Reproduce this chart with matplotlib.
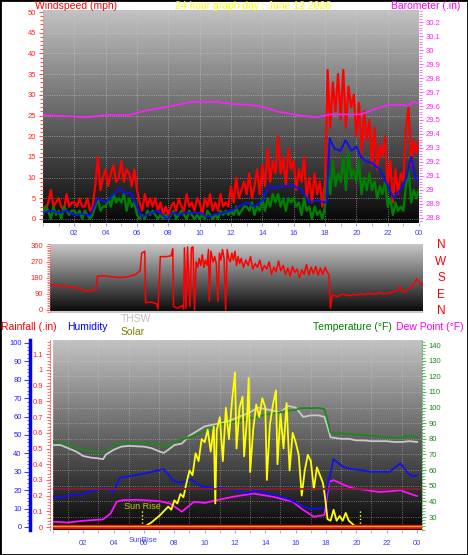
import numpy as np
import matplotlib
matplotlib.use("Agg")
import matplotlib.pyplot as plt
from matplotlib.ticker import MultipleLocator, FixedLocator, FuncFormatter
from matplotlib.patches import Rectangle

# ---- data ----
# wind, 10 minute steps from 00:00 to 24:00
wind_hours = [i / 6 for i in range(145)]
wind_gust = [3, 2, 4, 7, 3, 4,  5, 3, 2, 6, 3, 4,  4, 3, 5, 3, 3, 5,
             2, 3, 8, 15, 7, 10,  12, 8, 11, 13, 9, 10,  14, 9, 12, 11, 8, 12,
             7, 4, 2, 6, 3, 5,  3, 5, 2, 4, 1, 3,  1, 3, 4, 2, 5, 3,
             2, 6, 3, 4, 2, 5,  4, 1, 5, 3, 6, 2,  4, 2, 6, 3, 4, 3,
             8, 4, 10, 5, 7, 9,  6, 11, 5, 8, 12, 6,  13, 8, 17, 9, 14, 11,
             20, 11, 15, 8, 17, 12,  14, 7, 12, 9, 15, 5,  10, 4, 11, 6, 9, 3,
             9, 36, 22, 33, 26, 35,  24, 36, 22, 32, 27, 30,  20, 28, 16, 26, 19, 24,
             13, 22, 12, 18, 15, 20,  8, 14, 4, 12, 6, 11,  9, 22, 27, 13, 19, 16,
             19]
wind_low = [1, 3, 2, 0, 3, 1,  2, 0, 3, 2, 1, 2,  2, 1, 2, 0, 2, 1,
            0, 1, 3, 5, 2, 3,  3, 5, 3, 6, 4, 5,  4, 6, 2, 5, 3, 4,
            1, 0, 1, 0, 2, 1,  2, 1, 0, 1, 0, 1,  0, 1, 2, 0, 1, 2,
            1, 0, 2, 1, 0, 1,  0, 1, 0, 2, 1, 0,  1, 0, 2, 1, 2, 1,
            2, 1, 3, 1, 2, 3,  3, 2, 4, 1, 3, 2,  5, 2, 5, 3, 6, 4,
            6, 3, 5, 2, 5, 4,  5, 3, 4, 1, 5, 2,  3, 0, 3, 1, 2, 0,
            3, 12, 6, 14, 8, 11,  9, 15, 7, 16, 10, 12,  9, 14, 6, 10, 7, 11,
            7, 9, 5, 8, 6, 9,  3, 5, 1, 4, 2, 3,  2, 8, 12, 4, 7, 5,
            7]
avg_hours = [0, 0.5, 1, 1.5, 2, 2.5, 3, 3.25, 3.5, 4, 4.5, 4.9, 5.3, 5.6, 6, 6.3,
             6.6, 7, 7.3, 7.6, 7.9, 8.3, 8.7, 9, 9.5, 10, 10.5, 11, 11.5, 12, 12.5,
             13, 13.5, 14, 14.4, 14.8, 15.2, 15.6, 16, 16.5, 17, 17.5, 18, 18.1,
             18.3, 18.6, 19, 19.3, 19.7, 20, 20.3, 20.6, 21, 21.5, 22, 22.4, 22.8,
             23.2, 23.5, 23.8, 24]
wind_avg = [1.5, 2, 1.5, 2, 1, 1.2, 0.8, 3, 5, 4, 6, 7.3, 6, 6.5, 3, 0.5,
            1, 1.5, 2, 1, 0, 1.5, 1, 1.5, 1.5, 1.5, 0.5, 1.2, 1.5, 2, 3,
            4, 3, 4.5, 8, 7.5, 7.8, 8, 8, 7, 4, 4.5, 4, 4,
            19.5, 17, 16.5, 19, 16.5, 17.5, 15, 14, 13.5, 12, 8, 5, 7,
            10, 15, 9.5, 9.5]
baro_hours = [0, 2.8, 4, 5.5, 6.5, 8, 9.5, 11, 12.2, 13, 14, 15, 16.5, 17.5,
              18.3, 19.5, 20.3, 21, 22, 23, 23.3, 23.6, 24]
barometer = [29.536, 29.52, 29.536, 29.536, 29.566, 29.595, 29.63, 29.63, 29.614,
             29.61, 29.595, 29.56, 29.53, 29.52, 29.54, 29.54, 29.54, 29.57,
             29.607, 29.607, 29.6, 29.63, 29.62]

# wind direction (degrees)
dir_hours = [0, 0.5, 1, 1.5, 2, 2.4, 2.8, 2.95, 3.05, 3.5, 4, 4.5, 5, 5.5, 5.8, 5.9,
             6.1, 6.15, 6.5, 6.85, 6.95, 7.1, 7.5, 7.8, 7.9, 7.95, 8.2, 8.5, 8.6,
             8.65, 8.75, 8.85, 9.0, 9.1, 9.2, 9.3,
             9.4, 9.5, 9.6, 9.7, 9.8, 9.9, 10.0, 10.1, 10.2, 10.25, 10.35, 10.5, 10.6,
             10.7, 10.8, 10.9, 11.0, 11.1, 11.2, 11.3, 11.4, 11.5,
             11.6, 11.7, 11.8, 11.9, 12.0, 12.1, 12.2, 12.3, 12.45, 12.6, 12.75, 12.9,
             13.05, 13.2, 13.35, 13.5, 13.65, 13.8, 13.95, 14.1, 14.25, 14.4, 14.55,
             14.7, 14.85, 15.0, 15.15, 15.3, 15.45, 15.6, 15.75, 15.9, 16.05, 16.2,
             16.35, 16.5, 16.65, 16.8, 16.95, 17.1, 17.25, 17.4, 17.55, 17.7, 17.85,
             17.95, 18.05, 18.15, 18.5, 18.8, 19, 19.3, 19.5, 19.8, 20, 20.3,
             20.5, 20.8, 21, 21.3, 21.5, 21.8, 22, 22.3, 22.5, 22.7, 23, 23.3, 23.6,
             23.8, 24]
wind_dir = [141, 138, 135, 128, 118, 105, 112, 115, 190, 192, 186, 182, 186, 200, 220, 320,
            330, 40, 45, 35, 5, 300, 300, 305, 345, 20, 10, 25, 5,
            350, 10, 355, 20, 350, 355, 0,
            270, 240, 290, 250, 310, 240, 280, 250, 340, 50, 330, 270, 300,
            260, 50, 320, 280, 340, 290, 0, 340, 290,
            270, 320, 280, 330, 250, 300, 260, 290, 240, 280, 250, 300,
            230, 260, 240, 280, 220, 250, 230, 270, 200, 240, 215,
            275, 220, 250, 200, 235, 190, 245, 210, 230, 180, 225,
            200, 255, 195, 240, 205, 245, 195, 235, 200, 240, 210,
            200, 10, 85, 75, 90, 85, 80, 88, 84, 92, 86,
            94, 88, 92, 97, 90, 96, 100, 108, 130, 100, 110, 130, 175,
            150, 140]

# temperature / THSW / dew point (F), humidity (%), solar (W/m2)
temp_hours = [0, 0.5, 1, 1.5, 2, 2.5, 3, 3.5, 3.8, 4.2, 5, 6, 7, 7.5, 8, 8.5, 9, 9.5,
              10, 10.5, 11, 11.5, 12, 12.5, 13, 13.5, 14, 14.5, 15, 15.5, 16, 16.3,
              17, 17.5, 17.9, 18.1, 18.3, 18.6, 19, 19.5, 20, 20.5, 21, 21.5, 22,
              22.5, 23, 23.2, 23.6, 24]
temperature = [78, 77.5, 76, 74.5, 73, 72, 71.5, 72, 74, 77, 77.5, 77.5, 76.5, 75, 78,
               79.5, 81, 83, 85, 87, 89, 90, 91, 92, 93, 94, 95.5, 96, 97, 98, 98.5,
               99.6, 99.6, 99.8, 99, 92, 84, 83.5, 83.5, 83, 82.7, 82.3, 82, 81.5, 81,
               80.6, 80.3, 82, 82, 80.8]
thsw_hours = [0, 0.5, 1, 1.5, 2, 2.5, 3, 3.3, 3.5, 4, 4.5, 5, 6, 6.5, 7, 7.3, 7.6, 8,
              8.5, 9, 9.5, 10, 10.5, 11, 11.5, 12, 12.5, 13, 13.5, 14, 14.5, 15,
              15.5, 16, 16.5, 17, 17.5, 17.9, 18.1, 18.3, 19, 19.5, 20, 20.5, 21, 22,
              22.5, 23, 23.5, 24]
thsw = [76, 76, 74, 72, 69, 68, 67.5, 67, 70, 73, 75, 75.5, 75, 74, 72, 71, 73, 76,
        77, 82, 85, 88, 89, 90, 91, 93, 95, 97, 100, 99, 98, 97, 101,
        100, 94, 95, 95, 94, 88, 81, 80, 80, 79, 79, 78.5, 78.5,
        78, 78, 78.5, 78]
dew_hours = [0, 1, 2, 3.3, 3.8, 4.2, 4.6, 5.5, 6.5, 7.1, 7.7, 8.5, 9.3, 10, 10.8, 11.9,
             13.2, 14.5, 15.8, 16.5, 17.2, 17.9, 18.2, 18.5, 19.2, 19.8, 20.5, 21.5,
             22.3, 22.9, 23.5, 24]
dew_point = [27, 26.5, 27.6, 28.5, 32.3, 39.8, 40.8, 41, 40.5, 40, 38.7, 33.4, 39.8, 39,
             40.8, 43, 45, 43, 39.8, 34.5, 30.2, 31.3, 52.5, 53.6, 50.5, 48.3, 47.5, 46,
             46.5, 47.2, 45, 43.4]
hum_hours = [0, 0.5, 1, 1.5, 2, 2.5, 3, 3.5, 4, 4.4, 5.3, 6, 6.5, 7.3, 7.9, 8.3, 8.7,
             9.1, 9.7, 10.5, 11.2, 11.9, 12.8, 13.4, 14.2, 15, 15.6, 16.3, 16.9, 17.5,
             17.9, 18.1, 18.5, 19.1, 19.6, 20.2, 21, 22.2, 22.9, 23.4, 23.7, 24]
humidity = [16.5, 16, 17, 17.5, 18, 19.5, 20.5, 21, 19, 26.6, 28, 29, 30, 31.5, 25.5,
            24, 24.5, 26, 22.3, 21.5, 21, 20, 18.5, 19.7, 18, 16.5, 15, 12, 10, 10,
            10.3, 22, 36.8, 32.8, 31.5, 31, 30, 30, 34.6, 29.3, 27.5, 28]
solar_hours = [0, 6.0, 6.5, 7.0, 7.3, 7.6, 7.8, 8.0, 8.2, 8.4, 8.6, 8.8, 9.0, 9.2, 9.4,
               9.6, 9.8, 10.0, 10.2, 10.4, 10.6, 10.7, 10.8, 11.0, 11.2, 11.4, 11.6,
               11.8, 12.0, 12.1, 12.3, 12.5, 12.6, 12.8, 12.9, 13.0, 13.2, 13.4, 13.6,
               13.8, 14.0, 14.1, 14.3, 14.5, 14.7, 14.8, 15.0, 15.2, 15.4, 15.6, 15.8,
               16.0, 16.2, 16.4, 16.6, 16.8, 17.0, 17.2, 17.4, 17.6, 17.8, 17.95, 18.1,
               18.3, 18.5, 18.7, 18.9, 19.1, 19.3, 19.5, 19.8, 20.0, 24]
solar = [0, 0, 30, 70, 100, 130, 110, 170, 150, 210, 190, 280, 360, 330, 470,
         420, 560, 540, 620, 480, 640, 150, 620, 700, 420, 760, 560,
         800, 985, 500, 760, 830, 450, 700, 950, 350, 620, 780, 700,
         820, 760, 300, 650, 780, 870, 400, 720, 500, 790, 360, 600,
         540, 460, 200, 360, 460, 420, 240, 380, 330, 280, 180, 50,
         40, 110, 40, 70, 40, 90, 40, 15, 0, 0]
rain_total = 0.0
rain_mark = 0.24
sunrise, sunset = 5.9, 20.25

hour_ticks = list(range(2, 25, 2))
hour_labels = ["%02d" % (h % 24) for h in hour_ticks]

# ---- figure ----
plt.rcParams["font.family"] = ["Liberation Sans", "DejaVu Sans"]
W, H = 468, 555
fig = plt.figure(figsize=(W / 100, H / 100), dpi=100)
fig.patch.set_facecolor("white")

TICK = 5.5
LBL_BLUE = "#3c3cff"


def box(l, t, r, b):
    return [l / W, 1 - b / H, (r - l) / W, (b - t) / H]


def gradient(ax, top=0.76, bottom=0.03):
    g = np.linspace(bottom, top, 256).reshape(-1, 1)
    ax.imshow(g, extent=[0, 1, 0, 1], transform=ax.transAxes, origin="lower",
              cmap="gray", vmin=0, vmax=1, aspect="auto", zorder=0)


def hide_spines(ax):
    for s in ax.spines.values():
        s.set_visible(False)


def ftext(x, y, s, **kw):
    fig.text(x / W, 1 - y / H, s, va="center", **kw)


# top: wind speed + barometer
ax1 = fig.add_axes(box(43, 10, 419, 223))
gradient(ax1)
ax1.plot(wind_hours, wind_gust, color="#ff0000", lw=1.6, zorder=2)
ax1.plot(wind_hours, wind_low, color="#008000", lw=1.7, zorder=3)
ax1.plot(avg_hours, wind_avg, color="#1010e8", lw=1.4, zorder=4)
ax1.set_xlim(0, 24)
ax1.set_ylim(-0.97, 50.5)
hide_spines(ax1)
ax1.xaxis.set_major_locator(FixedLocator(hour_ticks))
ax1.set_xticklabels(hour_labels)
ax1.xaxis.set_minor_locator(MultipleLocator(1))
ax1.tick_params(axis="x", which="both", colors="#a0a0ff", labelcolor=LBL_BLUE,
                labelsize=TICK, length=2, pad=3)
ax1.grid(True, color="#d0d0d0", linestyle=":", linewidth=0.6, alpha=0.7)

ax1b = ax1.twinx()
ax1b.plot(baro_hours, barometer, color="#ff20ff", lw=1.2)
ax1b.set_ylim(28.764, 30.286)
hide_spines(ax1b)
ax1b.yaxis.tick_right()
ax1b.yaxis.set_major_locator(MultipleLocator(0.1))
ax1b.yaxis.set_minor_locator(MultipleLocator(0.02))
ax1b.yaxis.set_major_formatter(FuncFormatter(lambda v, p: "%g" % round(v, 1)))
ax1b.tick_params(axis="y", which="both", colors="#ff60ff", labelcolor="#ff20ff",
                 labelsize=TICK, length=2, pad=2)
ax1b.tick_params(axis="y", which="major", length=3)

ax1.yaxis.tick_left()
ax1.yaxis.set_major_locator(MultipleLocator(5))
ax1.yaxis.set_minor_locator(MultipleLocator(1))
ax1.tick_params(axis="y", which="both", colors="#ff5050", labelcolor="#ff2020",
                labelsize=TICK, length=2, width=0.8, pad=2)
ax1.tick_params(axis="y", which="major", length=3)

ftext(35, 6, "Windspeed (mph)", color="#ff0000", fontsize=7.5)
ftext(253, 6, "24 hour graph day : June 12 2026", color="#ffff00", fontsize=7.5, ha="center")
ftext(460, 6, "Barometer (.in)", color="#ff00ff", fontsize=7.5, ha="right")

# middle: wind direction
ax2 = fig.add_axes(box(50, 244, 423, 313))
gradient(ax2, top=0.78, bottom=0.02)
ax2.plot(dir_hours, wind_dir, color="#ff0000", lw=1.1)
ax2.set_xlim(0, 24)
ax2.set_ylim(-16.9, 371)
hide_spines(ax2)
ax2.set_xticks([])
ax2.yaxis.set_major_locator(MultipleLocator(90))
ax2.yaxis.set_minor_locator(MultipleLocator(10))
ax2.tick_params(axis="y", which="both", colors="#ff6060", labelcolor="#ff2020",
                labelsize=TICK, length=2, pad=2)
ax2.tick_params(axis="y", which="major", length=3)
ax2.axhline(-12, color="#c8c8c8", lw=1.5)
for lab, yy in zip(["N", "W", "S", "E", "N"], [245, 262, 278, 295, 311]):
    ftext(441, yy, lab, color="#ff0000", fontsize=8.5, ha="center")

# bottom: temperature, dew point, THSW, humidity, solar, rain
ax3 = fig.add_axes(box(53, 340, 422, 530))
gradient(ax3)
ax3.plot(thsw_hours, thsw, color="#c8c8c8", lw=1.3, zorder=2)
ax3.plot(temp_hours, temperature, color="#1a8a1a", lw=1.3, zorder=3)
ax3.plot(dew_hours, dew_point, color="#ff10ff", lw=1.3, zorder=3)
ax3.set_xlim(0, 24.33)
ax3.set_ylim(21.7, 143.2)
hide_spines(ax3)
ax3.xaxis.set_major_locator(FixedLocator(hour_ticks))
ax3.set_xticklabels(hour_labels)
ax3.xaxis.set_minor_locator(MultipleLocator(1))
ax3.tick_params(axis="x", which="both", colors="#a0a0ff", labelcolor=LBL_BLUE,
                labelsize=TICK, length=2, pad=5)

ax3h = ax3.twinx()
ax3h.plot(hum_hours, humidity, color="#1010f0", lw=1.3)
ax3h.set_ylim(-1.63, 101.6)
hide_spines(ax3h)
ax3h.yaxis.tick_left()
ax3h.spines["left"].set_visible(True)
ax3h.spines["left"].set_position(("outward", 16.6))
ax3h.spines["left"].set_color("#0000ff")
ax3h.spines["left"].set_linewidth(2.5)
ax3h.yaxis.set_major_locator(MultipleLocator(10))
ax3h.yaxis.set_minor_locator(MultipleLocator(2))
ax3h.tick_params(axis="y", which="both", colors="#4040ff", labelcolor="#2020ff",
                 labelsize=TICK, length=2, pad=2)
ax3h.tick_params(axis="y", which="major", length=4)

ax3s = ax3.twinx()
ax3s.plot(solar_hours, solar, color="#ffff00", lw=1.3)
ax3s.set_ylim(-19, 1191)
ax3s.axis("off")
for h in (sunrise, sunset):
    ax3s.plot([h, h], [0, 110], color="#ffff40", lw=1.0, linestyle=":")
ax3s.text(sunrise, 130, "Sun Rise", color="#c8c800", fontsize=6.5, ha="center", va="center")

ax3r = ax3.twinx()
ax3r.set_ylim(-0.019, 1.191)
ax3r.axhline(rain_mark, color="#8c1c30", lw=1.2)
ax3r.plot([0, 24.33], [rain_total, rain_total], color="#ff0000", lw=3)
ax3r.plot([0, 24.33], [rain_total + 0.004, rain_total + 0.004], color="#ffa020", lw=1)
hide_spines(ax3r)
ax3r.yaxis.tick_left()
ax3r.spines["left"].set_visible(True)
ax3r.spines["left"].set_position(("outward", 2.2))
ax3r.spines["left"].set_color("#ff6060")
ax3r.spines["left"].set_linestyle(":")
ax3r.yaxis.set_major_locator(FixedLocator([i / 10 for i in range(12)]))
ax3r.yaxis.set_minor_locator(MultipleLocator(0.02))
ax3r.yaxis.set_major_formatter(FuncFormatter(lambda v, p: "%g" % round(v, 1)))
ax3r.tick_params(axis="y", which="both", colors="#ff6060", labelcolor="#ff2020",
                 labelsize=TICK, length=2, pad=2)
ax3r.tick_params(axis="y", which="major", length=3)

# temperature axis on the right (set after twinx, which moves ticks left)
ax3.yaxis.tick_right()
ax3.spines["right"].set_visible(True)
ax3.spines["right"].set_color("#60b060")
ax3.spines["right"].set_linestyle(":")
ax3.yaxis.set_major_locator(MultipleLocator(10))
ax3.yaxis.set_minor_locator(MultipleLocator(2))
ax3.tick_params(axis="y", which="both", colors="#60b060", labelcolor="#1a8a1a",
                labelsize=TICK, length=2, pad=2)
ax3.tick_params(axis="y", which="major", length=3)
ax3.grid(True, which="major", axis="y", color="#d0d0d0", linestyle=":", linewidth=0.6, alpha=0.6)
ax3.grid(True, which="minor", axis="x", color="#d0d0d0", linestyle=":", linewidth=0.6, alpha=0.6)

ftext(143, 541, "SunRise", color=LBL_BLUE, fontsize=TICK, ha="center")
ftext(1, 327, "Rainfall (.in)", color="#ff0000", fontsize=7.5)
ftext(67, 327, "Humidity", color="#0000ff", fontsize=7.5)
ftext(121, 319, "THSW", color="#c0c0c0", fontsize=7.5)
ftext(121, 332, "Solar", color="#808000", fontsize=7.5)
ftext(392, 327, "Temperature (\u00b0F)", color="#008000", fontsize=7.5, ha="right")
ftext(396, 327, "Dew Point (\u00b0F)", color="#ff00ff", fontsize=7.5)

fig.patches.append(Rectangle((0, 0), 1, 1, transform=fig.transFigure, fill=False,
                             edgecolor="black", linewidth=2))

fig.savefig("out.png", dpi=100)
